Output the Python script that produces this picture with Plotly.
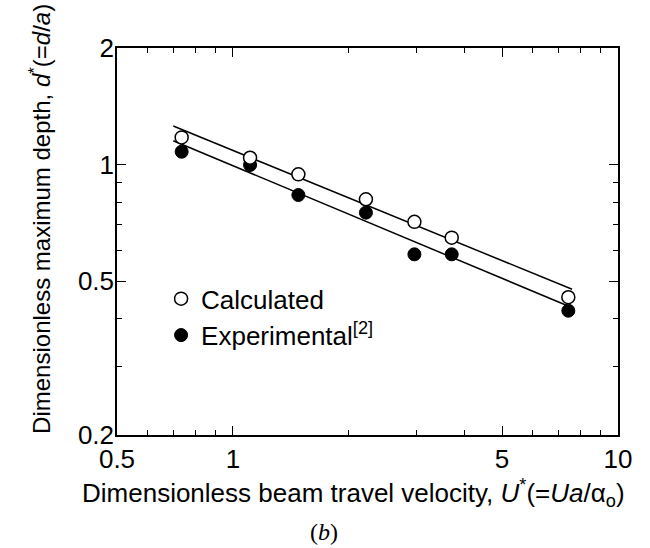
import plotly.graph_objects as go

# Data
u_calc = [0.736, 1.108, 1.479, 2.215, 2.96, 3.70, 7.43]
d_calc = [1.175, 1.041, 0.943, 0.813, 0.711, 0.647, 0.454]
u_exp = [0.736, 1.108, 1.479, 2.215, 2.96, 3.70, 7.43]
d_exp = [1.079, 0.997, 0.834, 0.751, 0.586, 0.586, 0.419]

fit_calc_u = [0.70, 7.6]
fit_calc_d = [1.257, 0.476]
fit_exp_u = [0.70, 7.5]
fit_exp_d = [1.152, 0.429]

x_major = [0.5, 1, 5, 10]
x_minor = [0.6, 0.7, 0.8, 0.9, 2, 3, 4, 6, 7, 8, 9]
y_major = [0.2, 0.5, 1, 2]
y_minor = [0.3, 0.4, 0.6, 0.7, 0.8, 0.9]

x_title = "Dimensionless beam travel velocity, <i>U</i><sup>*</sup>(=<i>Ua</i>/α<sub>o</sub>)"
y_title = "Dimensionless maximum depth, <i>d</i><sup>*</sup>(=<i>d</i>/<i>a</i>)"

FONT = "Liberation Sans, Arial, sans-serif"

fig = go.Figure()
fig.add_trace(go.Scatter(x=fit_calc_u, y=fit_calc_d, mode="lines",
                         line=dict(color="black", width=1.5), showlegend=False))
fig.add_trace(go.Scatter(x=fit_exp_u, y=fit_exp_d, mode="lines",
                         line=dict(color="black", width=1.5), showlegend=False))
fig.add_trace(go.Scatter(x=u_exp, y=d_exp, mode="markers", name="Experimental<sup>[2]</sup>",
                         marker=dict(symbol="circle", size=13, color="black",
                                     line=dict(color="black", width=1)),
                         legend="legend2"))
fig.add_trace(go.Scatter(x=u_calc, y=d_calc, mode="markers", name="Calculated",
                         marker=dict(symbol="circle", size=13, color="white",
                                     line=dict(color="black", width=1.5)),
                         legend="legend"))

axis_common = dict(
    type="log", showgrid=False, zeroline=False, showline=True, linecolor="black",
    linewidth=1.5, mirror="ticks", ticks="inside", ticklen=9, tickwidth=1.3,
    tickcolor="black", tickfont=dict(family=FONT, size=26, color="black"),
)

fig.update_xaxes(**axis_common, range=[-0.30103, 1.0], tickmode="array",
                 tickvals=x_major, ticktext=[str(v) for v in x_major],
                 ticklabelstandoff=0,
                 minor=dict(tickmode="array", tickvals=x_minor, ticks="inside",
                            ticklen=5, tickwidth=1.3, tickcolor="black"))
fig.update_yaxes(**axis_common, range=[-0.69897, 0.30103], tickmode="array",
                 tickvals=y_major, ticktext=[str(v) for v in y_major],
                 ticklabelstandoff=-4,
                 minor=dict(tickmode="array", tickvals=y_minor, ticks="inside",
                            ticklen=5, tickwidth=1.3, tickcolor="black"))

legend_common = dict(font=dict(family=FONT, size=26, color="black"),
                     bgcolor="rgba(0,0,0,0)", borderwidth=0, xanchor="left", yanchor="middle")
fig.update_layout(
    width=650, height=548,
    margin=dict(l=117, r=32, t=48, b=113),
    plot_bgcolor="white", paper_bgcolor="white",
    legend=dict(**legend_common, x=0.088, y=0.352),
    legend2=dict(**legend_common, x=0.088, y=0.258),
    annotations=[
        dict(text=x_title, x=0.472, y=-0.149, xref="paper", yref="paper",
             xanchor="center", yanchor="middle", showarrow=False,
             font=dict(family=FONT, size=26, color="black")),
        dict(text=y_title, x=-0.154, y=0.558, xref="paper", yref="paper", textangle=-90,
             xanchor="center", yanchor="middle", showarrow=False,
             font=dict(family=FONT, size=24, color="black")),
        dict(text="(<i>b</i>)", x=0.413, y=-0.251, xref="paper", yref="paper",
             xanchor="center", yanchor="middle", showarrow=False,
             font=dict(family="Liberation Serif, Times New Roman, serif", size=24, color="black")),
    ],
)

fig.write_html("out.html")
